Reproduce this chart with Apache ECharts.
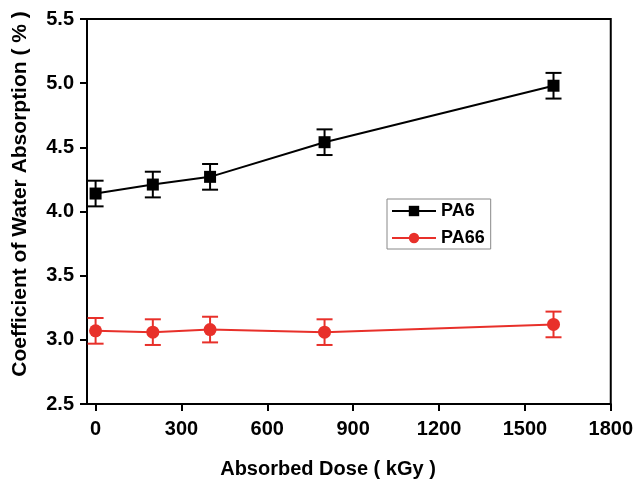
<!DOCTYPE html>
<html>
<head>
<meta charset="utf-8">
<script src="https://cdn.jsdelivr.net/npm/echarts@6/dist/echarts.min.js"></script>
<style>
  html, body { margin: 0; padding: 0; background: #fff; }
  #chart { width: 636px; height: 481px; }
</style>
</head>
<body>
<div id="chart"></div>
<script>
var doses = [0, 200, 400, 800, 1600];
var pa6 = [4.14, 4.21, 4.27, 4.54, 4.98];
var pa6Err = [0.10, 0.10, 0.10, 0.10, 0.10];
var pa66 = [3.07, 3.06, 3.08, 3.06, 3.12];
var pa66Err = [0.10, 0.10, 0.10, 0.10, 0.10];
var xTicks = [0, 300, 600, 900, 1200, 1500, 1800];

var FONT = '"Liberation Sans", Arial, sans-serif';
var RED = '#e8302a';

// [x, low, high] for the error bars
function errData(vals, errs) {
  return doses.map(function (d, i) {
    return [d, vals[i] - errs[i], vals[i] + errs[i]];
  });
}

function errRenderer(color) {
  return function (params, api) {
    var top = api.coord([api.value(0), api.value(2)]);
    var bot = api.coord([api.value(0), api.value(1)]);
    var w = 8;
    var st = { stroke: color, lineWidth: 2 };
    return {
      type: 'group',
      children: [
        { type: 'line', shape: { x1: top[0], y1: top[1], x2: bot[0], y2: bot[1] }, style: st },
        { type: 'line', shape: { x1: top[0] - w, y1: top[1], x2: top[0] + w, y2: top[1] }, style: st },
        { type: 'line', shape: { x1: bot[0] - w, y1: bot[1], x2: bot[0] + w, y2: bot[1] }, style: st }
      ]
    };
  };
}

var dom = document.getElementById('chart');
var myChart = echarts.init(dom, null, { renderer: 'canvas' });

var option = {
  animation: false,
  textStyle: { fontFamily: FONT },
  grid: {
    left: 87, right: 24, top: 19, bottom: 77,
    show: true, borderColor: '#000', borderWidth: 2
  },
  legend: {
    orient: 'vertical',
    left: 387, top: 199,
    data: ['PA6', 'PA66'],
    backgroundColor: '#fff',
    borderColor: '#888',
    borderWidth: 1,
    borderRadius: 0,
    padding: [3, 6, 2, 4],
    itemGap: 9,
    itemWidth: 44,
    itemHeight: 13,
    textStyle: { fontFamily: FONT, fontSize: 18, fontWeight: 'bold', color: '#000' }
  },
  xAxis: {
    type: 'value',
    min: -30, max: 1800,
    splitLine: { show: false },
    axisLine: { onZero: false, lineStyle: { color: '#000', width: 2 } },
    axisTick: { customValues: xTicks, length: 7, lineStyle: { color: '#000', width: 2 } },
    axisLabel: {
      customValues: xTicks, margin: 15,
      fontFamily: FONT, fontSize: 20, fontWeight: 'bold', color: '#000',
      formatter: function (v) { return String(v); }
    }
  },
  yAxis: {
    type: 'value',
    min: 2.5, max: 5.5, interval: 0.5,
    splitLine: { show: false },
    axisLine: { onZero: false, lineStyle: { color: '#000', width: 2 } },
    axisTick: { length: 7, lineStyle: { color: '#000', width: 2 } },
    axisLabel: {
      margin: 13,
      fontFamily: FONT, fontSize: 20, fontWeight: 'bold', color: '#000',
      formatter: function (v) { return v.toFixed(1); }
    }
  },
  graphic: [
    {
      type: 'text', x: 20, y: 194, rotation: Math.PI / 2,
      style: {
        text: 'Coefficient of Water Absorption ( % )',
        font: 'bold 21px ' + FONT, fill: '#000',
        textAlign: 'center', textVerticalAlign: 'middle'
      }
    },
    {
      type: 'text', x: 328, y: 469,
      style: {
        text: 'Absorbed Dose ( kGy )',
        font: 'bold 20px ' + FONT, fill: '#000',
        textAlign: 'center', textVerticalAlign: 'middle'
      }
    }
  ],
  series: [
    {
      name: 'PA6', type: 'line',
      data: doses.map(function (d, i) { return [d, pa6[i]]; }),
      symbol: 'rect', symbolSize: 12,
      itemStyle: { color: '#000' },
      lineStyle: { color: '#000', width: 2 },
      z: 3
    },
    {
      name: 'PA66', type: 'line',
      data: doses.map(function (d, i) { return [d, pa66[i]]; }),
      symbol: 'circle', symbolSize: 13,
      itemStyle: { color: RED },
      lineStyle: { color: RED, width: 2 },
      z: 3
    },
    {
      name: 'PA6 err', type: 'custom',
      data: errData(pa6, pa6Err),
      renderItem: errRenderer('#000'),
      encode: { x: 0, y: [1, 2] },
      z: 2
    },
    {
      name: 'PA66 err', type: 'custom',
      data: errData(pa66, pa66Err),
      renderItem: errRenderer(RED),
      encode: { x: 0, y: [1, 2] },
      z: 2
    }
  ]
};

myChart.setOption(option);
window.addEventListener('resize', myChart.resize);
</script>
</body>
</html>
